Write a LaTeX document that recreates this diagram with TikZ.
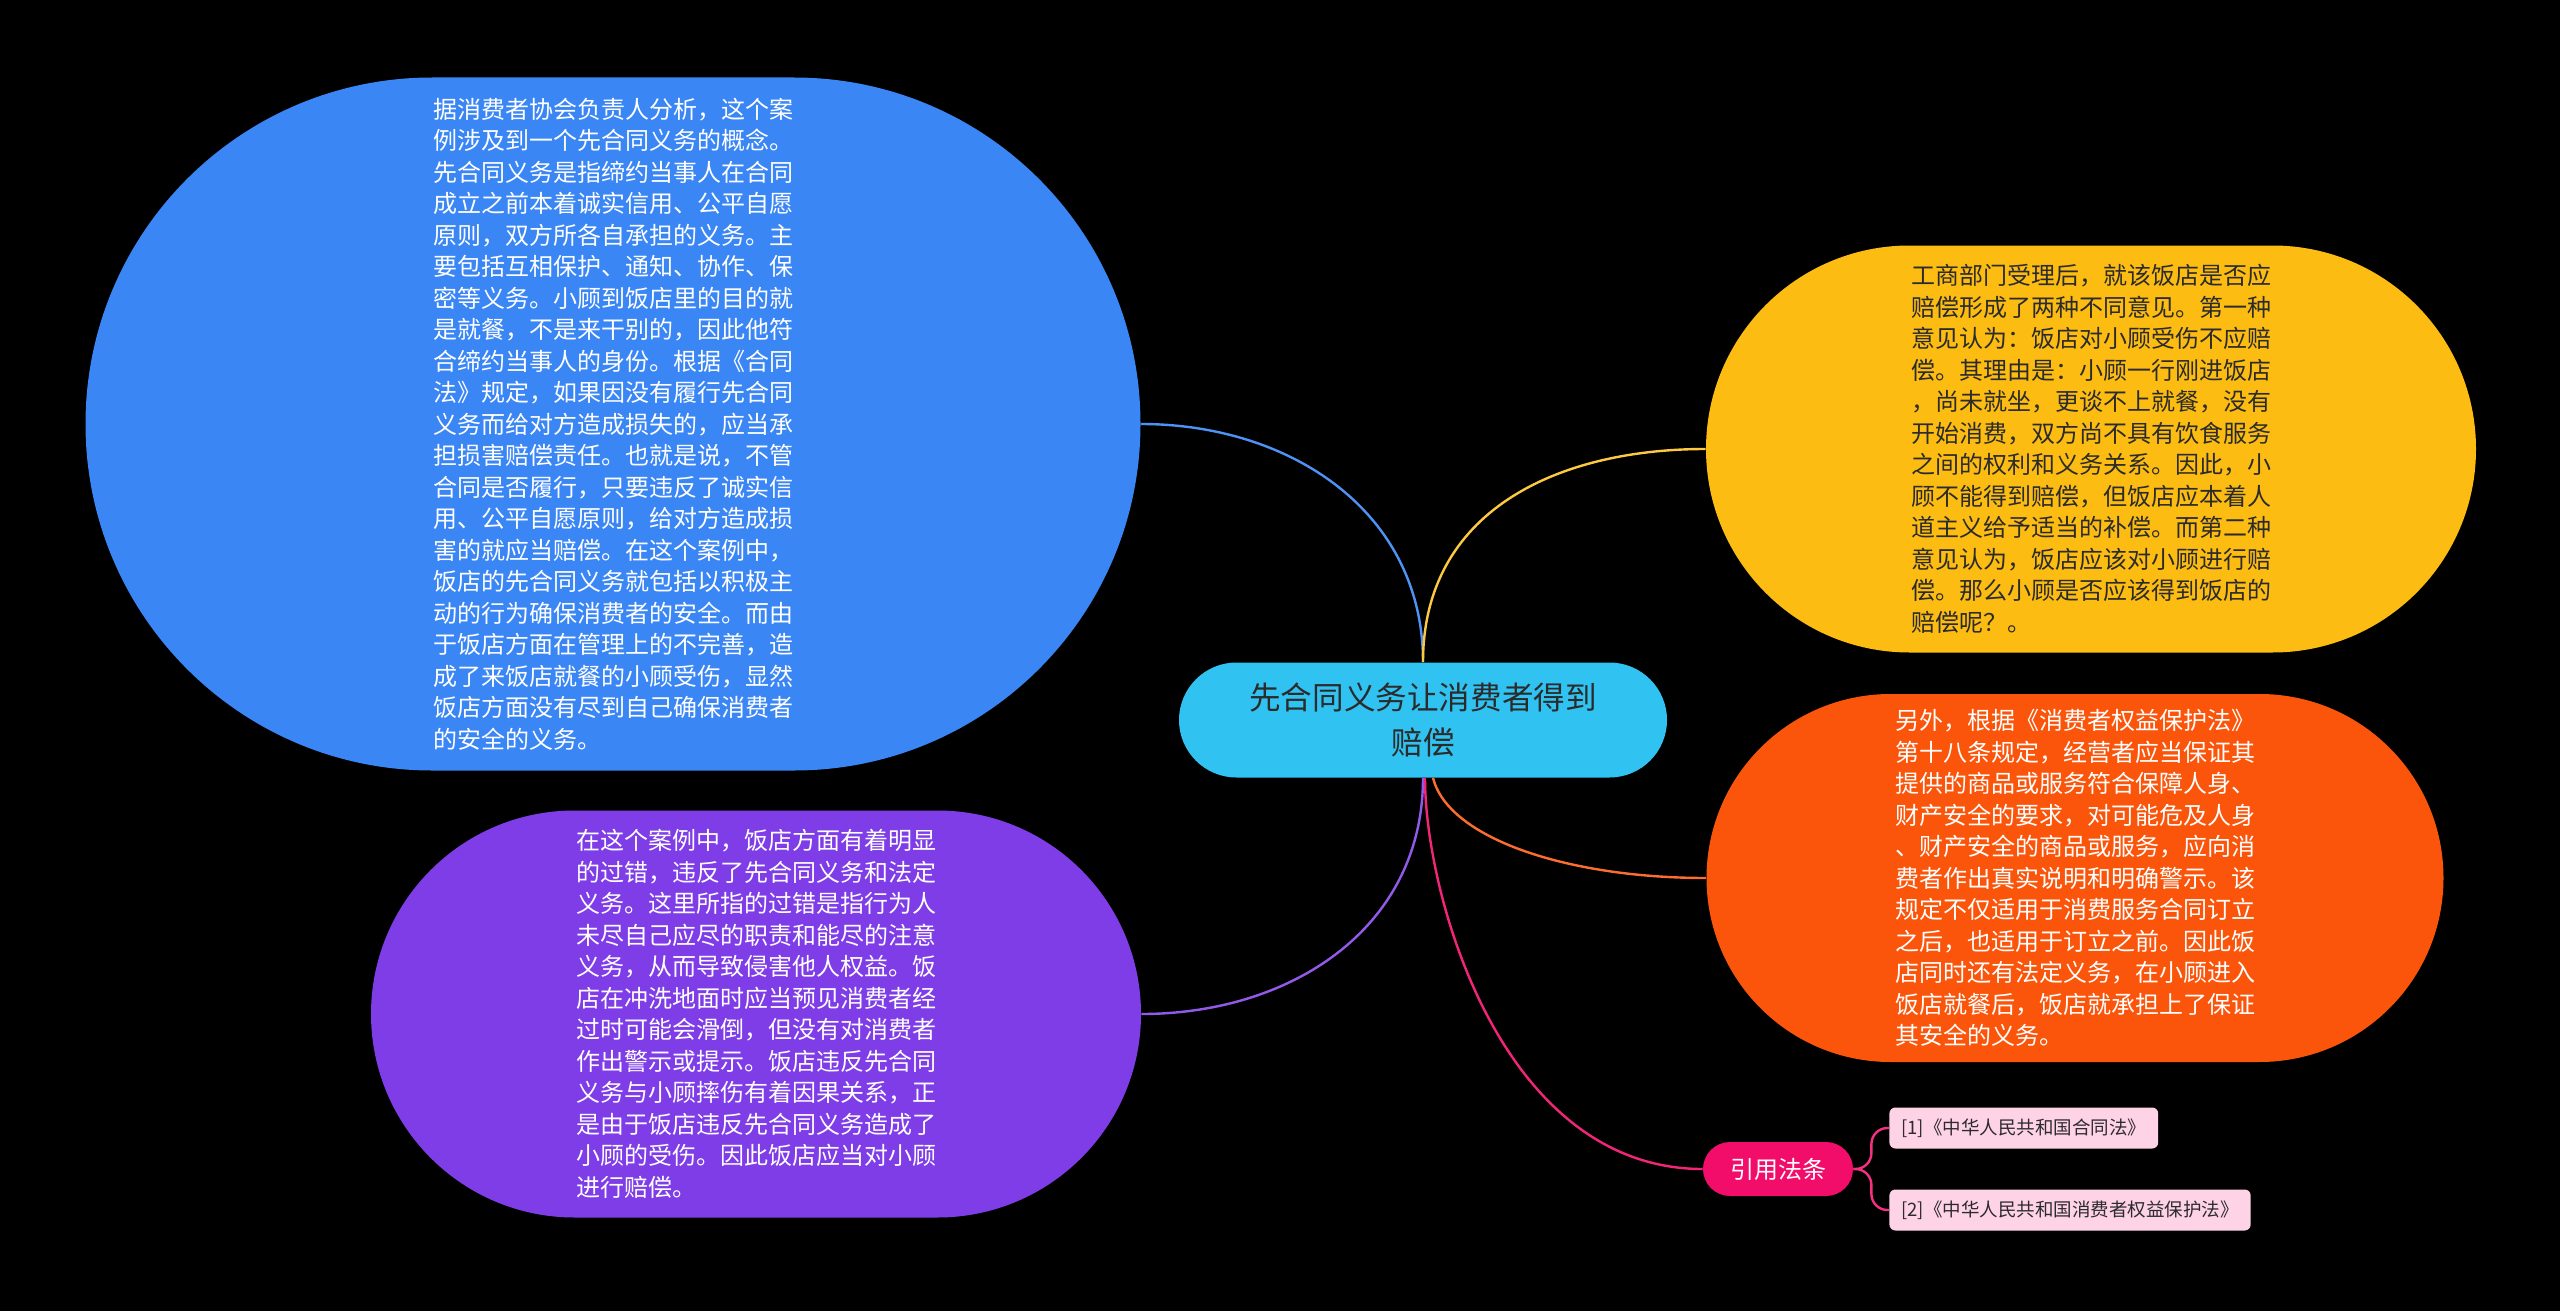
\documentclass[tikz,border=0pt]{standalone}
\usepackage{fontspec}
\usepackage{xcolor}
\usepackage{tikz}
\usetikzlibrary{shapes.misc, positioning, calc}
\newfontfamily\cjkfont{Noto Sans CJK SC}
\definecolor{map-bg}{HTML}{000000}
\definecolor{map-root}{HTML}{30C3F2}
\definecolor{map-blue}{HTML}{3A86F5}
\definecolor{map-purple}{HTML}{7F3DE8}
\definecolor{map-yellow}{HTML}{FCBC12}
\definecolor{map-orange}{HTML}{FA550A}
\definecolor{map-pink}{HTML}{F20D6A}
\definecolor{map-ref}{HTML}{FFD3E6}
\definecolor{map-dark}{HTML}{2B2B2B}

\begin{document}
\begin{tikzpicture}[
    x=0.5pt, y=-0.5pt,
    rootnode/.style={shape=rounded rectangle, fill=map-root, inner sep=0pt, minimum width=244pt, minimum height=57.5pt, align=center, text=map-dark, font=\cjkfont\fontsize{15.8pt}{22.5pt}\selectfont},
    topic/.style={shape=rounded rectangle, inner xsep=2pt, inner ysep=0pt, align=left, text=white, font=\cjkfont\fontsize{12pt}{15.75pt}\selectfont},
    citenode/.style={shape=rounded rectangle, fill=map-pink, inner sep=0pt, minimum width=75pt, minimum height=27pt, text=white, font=\cjkfont\fontsize{12pt}{14pt}\selectfont},
    refbox/.style={draw=none, fill=map-ref, rounded corners=3pt, inner xsep=6pt, inner ysep=0pt, minimum height=20.5pt, anchor=west, text=map-dark, font=\cjkfont\fontsize{9.25pt}{11pt}\selectfont},
    link/.style={line width=1.2pt}
]
    % Background
    \useasboundingbox (0,0) rectangle (2560,1311);
    \fill[map-bg] (0,0) rectangle (2560,1311);

    % Central topic
    \node (root) [rootnode] at (1423,720) {先合同义务让消费者得到\\赔偿};

    % Left branches
    \node (analysis) [topic, fill=map-blue, minimum width=531.5pt, minimum height=346.5pt] at (613,424) {%
        据消费者协会负责人分析，这个案\\
        例涉及到一个先合同义务的概念。\\
        先合同义务是指缔约当事人在合同\\
        成立之前本着诚实信用、公平自愿\\
        原则，双方所各自承担的义务。主\\
        要包括互相保护、通知、协作、保\\
        密等义务。小顾到饭店里的目的就\\
        是就餐，不是来干别的，因此他符\\
        合缔约当事人的身份。根据《合同\\
        法》规定，如果因没有履行先合同\\
        义务而给对方造成损失的，应当承\\
        担损害赔偿责任。也就是说，不管\\
        合同是否履行，只要违反了诚实信\\
        用、公平自愿原则，给对方造成损\\
        害的就应当赔偿。在这个案例中，\\
        饭店的先合同义务就包括以积极主\\
        动的行为确保消费者的安全。而由\\
        于饭店方面在管理上的不完善，造\\
        成了来饭店就餐的小顾受伤，显然\\
        饭店方面没有尽到自己确保消费者\\
        的安全的义务。};
    \node (fault) [topic, fill=map-purple, minimum width=389pt, minimum height=203.5pt] at (756,1014) {%
        在这个案例中，饭店方面有着明显\\
        的过错，违反了先合同义务和法定\\
        义务。这里所指的过错是指行为人\\
        未尽自己应尽的职责和能尽的注意\\
        义务，从而导致侵害他人权益。饭\\
        店在冲洗地面时应当预见消费者经\\
        过时可能会滑倒，但没有对消费者\\
        作出警示或提示。饭店违反先合同\\
        义务与小顾摔伤有着因果关系，正\\
        是由于饭店违反先合同义务造成了\\
        小顾的受伤。因此饭店应当对小顾\\
        进行赔偿。};

    % Right branches
    \node (opinion) [topic, fill=map-yellow, text=map-dark, minimum width=389pt, minimum height=203.5pt] at (2091,449) {%
        工商部门受理后，就该饭店是否应\\
        赔偿形成了两种不同意见。第一种\\
        意见认为：饭店对小顾受伤不应赔\\
        偿。其理由是：小顾一行刚进饭店\\
        ，尚未就坐，更谈不上就餐，没有\\
        开始消费，双方尚不具有饮食服务\\
        之间的权利和义务关系。因此，小\\
        顾不能得到赔偿，但饭店应本着人\\
        道主义给予适当的补偿。而第二种\\
        意见认为，饭店应该对小顾进行赔\\
        偿。那么小顾是否应该得到饭店的\\
        赔偿呢？。};
    \node (statute) [topic, fill=map-orange, minimum width=372.5pt, minimum height=184pt] at (2075,878) {%
        另外，根据《消费者权益保护法》\\
        第十八条规定，经营者应当保证其\\
        提供的商品或服务符合保障人身、\\
        财产安全的要求，对可能危及人身\\
        、财产安全的商品或服务，应向消\\
        费者作出真实说明和明确警示。该\\
        规定不仅适用于消费服务合同订立\\
        之后，也适用于订立之前。因此饭\\
        店同时还有法定义务，在小顾进入\\
        饭店就餐后，饭店就承担上了保证\\
        其安全的义务。};

    % Cited laws
    \node (cite) [citenode] at (1778,1169) {引用法条};
    \node (ref1) [refbox] at (1889,1128) {[1]《中华人民共和国合同法》};
    \node (ref2) [refbox] at (1889,1210) {[2]《中华人民共和国消费者权益保护法》};

    % Connections
    \draw[link, draw=map-blue!90!white] (analysis.east) .. controls +(150,0) and +(0,-150) .. (root.north);
    \draw[link, draw=map-yellow!80!white] (root.north) .. controls +(0,-150) and +(-150,0) .. (opinion.west);
    \draw[link, draw=map-purple!85!white] (root.south) .. controls +(0,150) and +(150,0) .. (fault.east);
    \draw[link, draw=map-orange!85!white] ([xshift=5pt]root.south) .. controls +(15,60) and +(-140,0) .. (statute.west);
    \draw[link, draw=map-pink!90!white] ([xshift=1pt]root.south) .. controls +(0,120) and +(-200,0) .. (cite.west);

    \draw[link, draw=map-pink!85!white, rounded corners=8pt] (cite.east) -- ++(18,0) |- (ref1.west);
    \draw[link, draw=map-pink!85!white, rounded corners=8pt] (cite.east) -- ++(18,0) |- (ref2.west);
\end{tikzpicture}
\end{document}
